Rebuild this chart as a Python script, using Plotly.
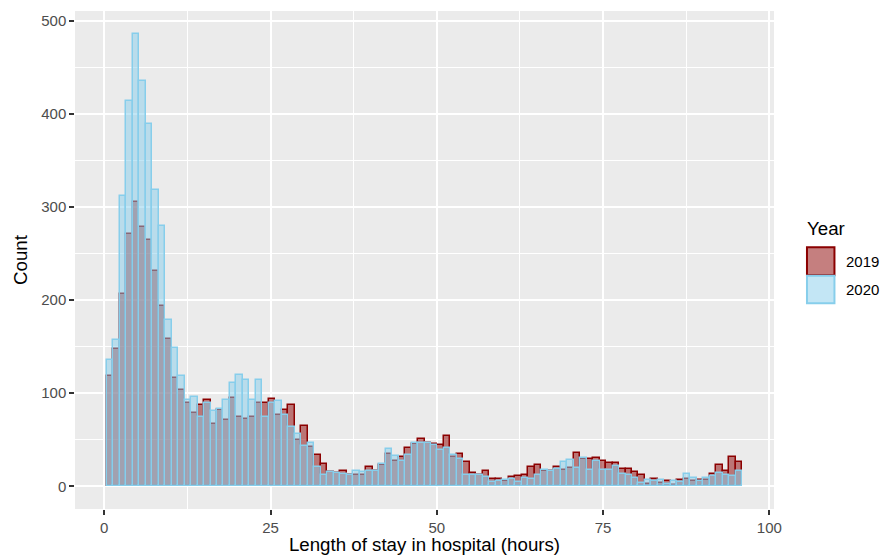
import plotly.graph_objects as go

# ---- data ----
bin_start = 0.376
bin_width = 0.975
years = ["2019", "2020"]
count_2019 = [119, 147, 206, 271, 305, 278, 265, 231, 194, 158,
              116, 103, 89, 79, 87, 93, 67, 82, 71, 95,
              75, 72, 75, 90, 89, 94, 77, 82, 87, 50,
              65, 42, 34, 24, 15, 14, 17, 12, 12, 12,
              21, 16, 23, 35, 27, 31, 41, 45, 51, 47,
              46, 44, 54, 32, 35, 26, 14, 12, 16, 8,
              8, 6, 10, 11, 12, 21, 23, 17, 16, 21,
              18, 20, 36, 29, 29, 30, 27, 25, 25, 19,
              19, 15, 12, 3, 8, 4, 6, 2, 7, 8,
              6, 7, 7, 13, 23, 16, 32, 26]
count_2020 = [136, 157, 312, 414, 486, 435, 389, 318, 280, 179,
              149, 118, 93, 96, 75, 89, 81, 83, 93, 111,
              120, 114, 93, 114, 75, 90, 92, 77, 64, 56,
              43, 47, 21, 12, 15, 14, 13, 12, 16, 15,
              16, 17, 24, 40, 33, 27, 34, 47, 47, 47,
              44, 39, 41, 34, 29, 12, 12, 12, 10, 5,
              6, 7, 8, 5, 9, 8, 12, 18, 17, 19,
              26, 28, 20, 30, 18, 27, 18, 18, 22, 13,
              12, 9, 4, 7, 6, 7, 3, 6, 5, 13,
              9, 6, 9, 11, 14, 12, 11, 16]
x_ticks = [0, 25, 50, 75, 100]
y_ticks = [0, 100, 200, 300, 400, 500]

n = len(count_2019)
centers = [bin_start + (i + 0.5) * bin_width for i in range(n)]

# ---- layout geometry ----
L, R, T, B = 75, 107.5, 10.5, 46
W = 882 - L - R
H = 555 - T - B


def px_x(px):
    return (px - L) / W


def px_y(py):
    return (555 - B - py) / H


x_lo = bin_start
x_hi = bin_start + n * bin_width
xpad = 0.05 * (x_hi - x_lo)
ymax = max(max(count_2019), max(count_2020))

FONT = "Liberation Sans, Arial, Helvetica, sans-serif"
RED_FILL = "rgba(139,0,0,0.5)"
RED_LINE = "rgb(139,0,0)"
BLUE_FILL = "rgba(135,206,235,0.5)"
BLUE_LINE = "rgb(135,206,235)"

fig = go.Figure()
fig.add_trace(go.Bar(x=centers, y=count_2019, width=bin_width, name=years[0],
                     marker=dict(color=RED_FILL, line=dict(color=RED_LINE, width=1.5)),
                     showlegend=False))
fig.add_trace(go.Bar(x=centers, y=count_2020, width=bin_width, name=years[1],
                     marker=dict(color=BLUE_FILL, line=dict(color=BLUE_LINE, width=1.5)),
                     showlegend=False))

axis_common = dict(
    showgrid=True, gridcolor="white", gridwidth=2.2,
    zeroline=False, showline=False, automargin=False,
    ticks="outside", ticklen=4.7, tickwidth=2, tickcolor="#333333",
    tickfont=dict(family=FONT, size=15, color="#4D4D4D"),
)

fig.update_layout(
    template="none",
    width=882, height=555,
    margin=dict(l=L, r=R, t=T, b=B, pad=0),
    paper_bgcolor="white", plot_bgcolor="#EBEBEB",
    barmode="overlay", bargap=0,
    font=dict(family=FONT, color="black"),
    xaxis=dict(axis_common, range=[x_lo - xpad, x_hi + xpad],
               tickmode="array", tickvals=x_ticks, ticktext=[str(v) for v in x_ticks],
               minor=dict(showgrid=True, gridcolor="white", gridwidth=1.1,
                          tickmode="array", tickvals=[12.5, 37.5, 62.5, 87.5], ticks=""),
               title=dict(text="Length of stay in hospital (hours)",
                          font=dict(family=FONT, size=18.7, color="black"), standoff=4)),
    yaxis=dict(axis_common, range=[-0.05 * ymax, 1.05 * ymax],
               tickmode="array", tickvals=y_ticks, ticktext=[str(v) for v in y_ticks],
               minor=dict(showgrid=True, gridcolor="white", gridwidth=1.1,
                          tickmode="array", tickvals=[50, 150, 250, 350, 450], ticks=""),
               title=dict(text="Count",
                          font=dict(family=FONT, size=18.7, color="black"), standoff=8)),
)

# ---- legend (ggplot-style keys) ----
key_x0, key_x1 = 807.5, 835
key_rows = [(247, 275), (275.5, 303)]
fills = [("rgb(197,127,127)", RED_LINE), ("rgb(195,230,245)", BLUE_LINE)]
for (y0, y1), (fc, lc), lab in zip(key_rows, fills, years):
    fig.add_shape(type="rect", xref="paper", yref="paper",
                  x0=px_x(key_x0), x1=px_x(key_x1), y0=px_y(y1), y1=px_y(y0),
                  fillcolor=fc, line=dict(color=lc, width=2), layer="above")
    fig.add_annotation(xref="paper", yref="paper", x=px_x(845), y=px_y((y0 + y1) / 2),
                       xanchor="left", yanchor="middle", showarrow=False, text=lab,
                       font=dict(family=FONT, size=15, color="black"))
fig.add_annotation(xref="paper", yref="paper", x=px_x(806), y=px_y(228),
                   xanchor="left", yanchor="middle", showarrow=False, text="Year",
                   font=dict(family=FONT, size=18.7, color="black"))

fig.write_html("out.html", config={"displayModeBar": False},
               post_script="document.body.style.margin='0';document.body.style.overflow='hidden';")
